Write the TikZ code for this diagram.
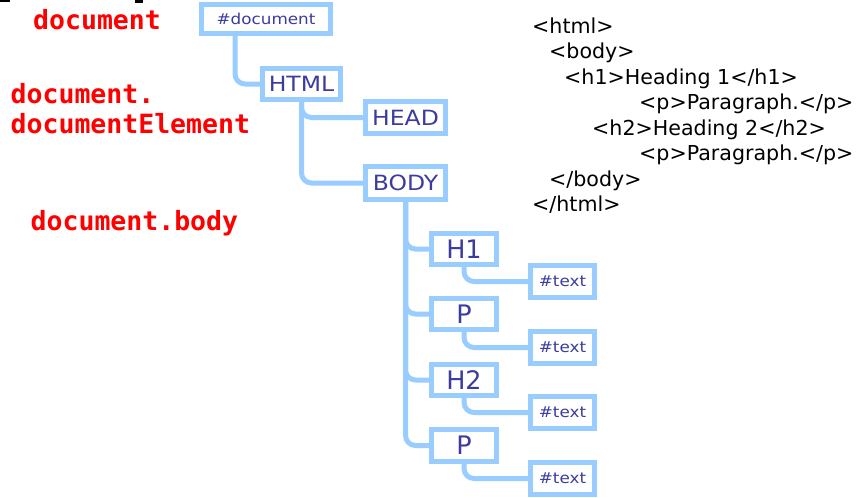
\documentclass[tikz,border=0pt]{standalone}
\usepackage{fontspec}
\setmainfont{DejaVu Sans}
\newfontfamily\boxfont[FakeStretch=1.12]{DejaVu Sans}
\newfontfamily\monofont{DejaVu Sans Mono}
\definecolor{treeblue}{RGB}{153,204,255}
\definecolor{nodeink}{RGB}{60,60,160}
\definecolor{labelred}{RGB}{255,0,0}
\tikzset{
  domnode/.style={draw=treeblue, line width=5pt, fill=white, inner sep=0pt,
    text=nodeink, font=\boxfont\fontsize{21}{22}\selectfont},
  smallnode/.style={domnode, font=\boxfont\fontsize{15}{16}\selectfont},
  bignode/.style={domnode, font=\fontsize{25.5}{27}\selectfont},
  conn/.style={draw=treeblue, line width=5pt, rounded corners=10pt},
  codeline/.style={anchor=base west, inner sep=0pt, font=\fontsize{20.6}{22}\selectfont},
  apilabel/.style={anchor=base west, inner sep=0pt, text=labelred,
    font=\monofont\bfseries\fontsize{26.5}{28}\selectfont}
}
\begin{document}
\begin{tikzpicture}[x=1pt,y=-1pt]
\useasboundingbox (0,0) rectangle (860,498);
\fill[white] (0,0) rectangle (860,498);
% stray marks along the top edge
\fill[black] (0,0) rectangle (10,2);
\fill[black] (135,0) rectangle (143,3);

% DOM tree
\node[smallnode, minimum width=129pt, minimum height=29pt] (doc) at (266,19) {\#document};
\node[domnode, minimum width=78pt, minimum height=31pt] (html) at (301.5,84) {HTML};
\node[domnode, minimum width=80pt, minimum height=32pt] (head) at (405.5,117.5) {HEAD};
\node[domnode, minimum width=80pt, minimum height=33pt] (body) at (405.5,183) {BODY};
\node[bignode, minimum width=65pt, minimum height=31pt] (h1) at (464,249) {H1};
\node[smallnode, minimum width=64pt, minimum height=32pt] (t1) at (562.5,281.5) {\#text};
\node[bignode, minimum width=65pt, minimum height=31pt] (p1) at (464,314) {P};
\node[smallnode, minimum width=64pt, minimum height=32pt] (t2) at (562.5,347.5) {\#text};
\node[bignode, minimum width=65pt, minimum height=31pt] (h2) at (464,380) {H2};
\node[smallnode, minimum width=64pt, minimum height=32pt] (t3) at (562.5,412.5) {\#text};
\node[bignode, minimum width=65pt, minimum height=32pt] (p2) at (464,445.5) {P};
\node[smallnode, minimum width=64pt, minimum height=32pt] (t4) at (562.5,478.5) {\#text};

% parent-child links, each ending on the child's left border
\draw[conn] ([xshift=-31pt]doc.south) |- (html.west);
\draw[conn] (html.south) |- (head.west);
\draw[conn] (html.south) |- (body.west);
\draw[conn] (body.south) |- (h1.west);
\draw[conn] (body.south) |- (p1.west);
\draw[conn] (body.south) |- (h2.west);
\draw[conn] (body.south) |- (p2.west);
\draw[conn] (h1.south) |- (t1.west);
\draw[conn] (p1.south) |- (t2.west);
\draw[conn] (h2.south) |- (t3.west);
\draw[conn] (p2.south) |- (t4.west);

% JavaScript access paths
\node[apilabel] (lbldoc) at (33,29) {document};
\node[apilabel] (lblroot1) at (10.5,103) {document.};
\node[apilabel] (lblroot2) at (10.5,133) {documentElement};
\node[apilabel] (lblbody) at (30.5,230) {document.body};

% HTML source
\node[codeline] (c1) at (532,33) {<html>};
\node[codeline] (c2) at (549,58.5) {<body>};
\node[codeline] (c3) at (564,84) {<h1>Heading 1</h1>};
\node[codeline] (c4) at (639,109.5) {<p>Paragraph.</p>};
\node[codeline] (c5) at (592,135) {<h2>Heading 2</h2>};
\node[codeline] (c6) at (639,160.5) {<p>Paragraph.</p>};
\node[codeline] (c7) at (549,186) {</body>};
\node[codeline] (c8) at (532,211.5) {</html>};
\end{tikzpicture}
\end{document}
